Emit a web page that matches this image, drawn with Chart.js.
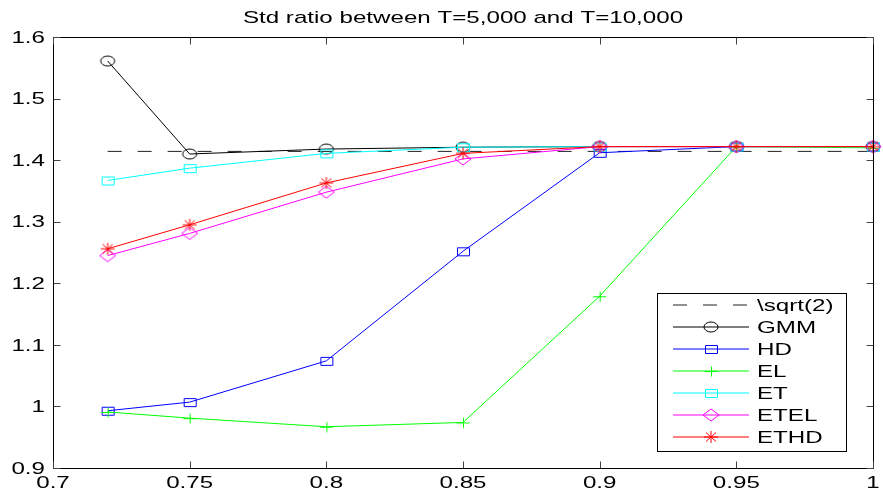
<!DOCTYPE html>
<html>
<head>
<meta charset="utf-8">
<script src="https://cdn.jsdelivr.net/npm/chart.js@4.4.1/dist/chart.umd.min.js"></script>
<style>
    html, body { margin: 0; padding: 0; background: #fff; }
    #wrap { width: 883px; height: 495px; }
</style>
</head>
<body>
<div id="wrap"><canvas id="chart"></canvas></div>
<script>
// Tail fraction on the x axis
var alphas = [0.72, 0.75, 0.8, 0.85, 0.9, 0.95, 1.0];
var sqrt2Span = [0.72, 1.0];
var sqrt2Value = Math.SQRT2;

// Std ratio per estimator
var gmm  = [1.561, 1.410, 1.418, 1.421, 1.422, 1.422, 1.422];
var hd   = [0.993, 1.007, 1.074, 1.252, 1.412, 1.422, 1.422];
var el   = [0.991, 0.981, 0.967, 0.974, 1.179, 1.422, 1.420];
var et   = [1.367, 1.387, 1.411, 1.421, 1.422, 1.422, 1.422];
var etel = [1.245, 1.281, 1.348, 1.402, 1.422, 1.422, 1.422];
var ethd = [1.256, 1.295, 1.363, 1.411, 1.422, 1.422, 1.422];

var xTicks = [0.7, 0.75, 0.8, 0.85, 0.9, 0.95, 1];
var xTickLabels = ['0.7', '0.75', '0.8', '0.85', '0.9', '0.95', '1'];
var yTicks = [0.9, 1, 1.1, 1.2, 1.3, 1.4, 1.5, 1.6];
var yTickLabels = ['0.9', '1', '1.1', '1.2', '1.3', '1.4', '1.5', '1.6'];

var titleText = 'Std ratio between T=5,000 and T=10,000';
var legendLabels = ['\\sqrt(2)', 'GMM', 'HD', 'EL', 'ET', 'ETEL', 'ETHD'];

var FONT = '17px "Liberation Sans", Arial, sans-serif';
var STRETCH = 1.42;

// text is drawn a bit wider than the font, like the old figure export
function wideText(ctx, text, x, y, align) {
    ctx.save();
    ctx.translate(x, y);
    ctx.scale(STRETCH, 1);
    ctx.font = FONT;
    ctx.fillStyle = '#000';
    ctx.textAlign = align;
    ctx.textBaseline = 'middle';
    ctx.fillText(text, 0, 0);
    ctx.restore();
}

// marker sprites (slightly flattened, as in the figure)
function makeMarker(kind, color) {
    var c = document.createElement('canvas');
    c.width = 20;
    c.height = 16;
    var g = c.getContext('2d');
    g.strokeStyle = color;
    g.lineWidth = 1;
    var cx = 10, cy = 8;
    g.beginPath();
    if (kind === 'circle') {
        g.ellipse(cx, cy, 7, 5, 0, 0, Math.PI * 2);
    } else if (kind === 'square') {
        g.rect(cx - 6 + 0.5, cy - 4 + 0.5, 12, 8);
    } else if (kind === 'plus') {
        g.moveTo(cx - 6.5, cy + 0.5); g.lineTo(cx + 6.5, cy + 0.5);
        g.moveTo(cx + 0.5, cy - 4.5); g.lineTo(cx + 0.5, cy + 5.5);
    } else if (kind === 'diamond') {
        g.moveTo(cx, cy - 6); g.lineTo(cx + 8, cy);
        g.lineTo(cx, cy + 6); g.lineTo(cx - 8, cy);
        g.closePath();
    } else if (kind === 'star') {
        g.moveTo(cx - 7, cy); g.lineTo(cx + 7, cy);
        g.moveTo(cx, cy - 6); g.lineTo(cx, cy + 6);
        g.moveTo(cx - 5, cy - 4.5); g.lineTo(cx + 5, cy + 4.5);
        g.moveTo(cx - 5, cy + 4.5); g.lineTo(cx + 5, cy - 4.5);
    }
    g.stroke();
    return c;
}

function pairs(ys) {
    return alphas.map(function(x, i) { return {x: x, y: ys[i]}; });
}

var series = [
    {label: legendLabels[0], data: sqrt2Span.map(function(x) { return {x: x, y: sqrt2Value}; }), color: '#222', marker: null, dash: [14, 16]},
    {label: legendLabels[1], data: pairs(gmm),  color: '#000000', marker: 'circle'},
    {label: legendLabels[2], data: pairs(hd),   color: '#0000ff', marker: 'square'},
    {label: legendLabels[3], data: pairs(el),   color: '#00ff00', marker: 'plus'},
    {label: legendLabels[4], data: pairs(et),   color: '#00ffff', marker: 'square'},
    {label: legendLabels[5], data: pairs(etel), color: '#ff00ff', marker: 'diamond'},
    {label: legendLabels[6], data: pairs(ethd), color: '#ff0000', marker: 'star'}
];

series.forEach(function(s) {
    s.sprite = s.marker ? makeMarker(s.marker, s.color) : null;
});

var datasets = series.map(function(s, i) {
    return {
        label: s.label,
        data: s.data,
        borderColor: s.color,
        borderWidth: 1,
        borderDash: s.dash || [],
        backgroundColor: 'transparent',
        pointStyle: s.sprite || false,
        pointRadius: s.sprite ? 6 : 0,
        fill: false,
        tension: 0,
        clip: false,
        // later series drawn on top
        order: series.length - i
    };
});

// axes box, inward ticks, tick labels and title
var axesPlugin = {
    id: 'matlabAxes',
    afterDraw: function(chart) {
        var ctx = chart.ctx;
        var a = chart.chartArea;
        var xs = chart.scales.x, ys = chart.scales.y;
        var L = Math.round(a.left) + 0.5, R = Math.round(a.right) + 0.5;
        var T = Math.round(a.top) + 0.5, B = Math.round(a.bottom) + 0.5;
        ctx.save();
        ctx.strokeStyle = '#000';
        ctx.lineWidth = 1;
        ctx.strokeRect(L, T, R - L, B - T);
        ctx.strokeStyle = '#444';
        ctx.beginPath();
        xTicks.forEach(function(v) {
            var px = Math.round(xs.getPixelForValue(v)) + 0.5;
            ctx.moveTo(px, B); ctx.lineTo(px, B - 7);
            ctx.moveTo(px, T); ctx.lineTo(px, T + 7);
        });
        yTicks.forEach(function(v) {
            var py = Math.round(ys.getPixelForValue(v)) + 0.5;
            ctx.moveTo(L, py); ctx.lineTo(L + 7, py);
            ctx.moveTo(R, py); ctx.lineTo(R - 7, py);
        });
        ctx.stroke();
        ctx.restore();

        xTicks.forEach(function(v, i) {
            wideText(ctx, xTickLabels[i], xs.getPixelForValue(v), a.bottom + 15, 'center');
        });
        yTicks.forEach(function(v, i) {
            wideText(ctx, yTickLabels[i], a.left - 8, ys.getPixelForValue(v) + 1, 'right');
        });
        wideText(ctx, titleText, (a.left + a.right) / 2, 18, 'center');
    }
};

// boxed legend in the lower right corner
var legendPlugin = {
    id: 'boxLegend',
    afterDraw: function(chart) {
        var ctx = chart.ctx;
        var box = {x: 657.5, y: 293.5, w: 189, h: 158};
        var rowGap = 22;
        var firstRow = 305;
        ctx.save();
        ctx.fillStyle = '#fff';
        ctx.fillRect(box.x, box.y, box.w, box.h);
        ctx.strokeStyle = '#000';
        ctx.lineWidth = 1;
        ctx.strokeRect(box.x, box.y, box.w, box.h);
        series.forEach(function(s, i) {
            var y = Math.round(firstRow + i * rowGap);
            ctx.save();
            ctx.beginPath();
            ctx.setLineDash(s.dash || []);
            ctx.strokeStyle = s.color;
            ctx.lineWidth = 1.2;
            ctx.moveTo(673, y);
            ctx.lineTo(749, y);
            ctx.stroke();
            ctx.restore();
            if (s.sprite) {
                ctx.drawImage(s.sprite, 711 - s.sprite.width / 2, y - s.sprite.height / 2);
            }
            wideText(ctx, s.label, 757, y + 1, 'left');
        });
        ctx.restore();
    }
};

new Chart(document.getElementById('chart'), {
    type: 'line',
    data: {datasets: datasets},
    options: {
        responsive: true,
        maintainAspectRatio: false,
        animation: false,
        events: [],
        layout: {
            padding: {left: 53, right: 10, top: 37, bottom: 27}
        },
        scales: {
            x: {type: 'linear', min: 0.7, max: 1, display: false},
            y: {type: 'linear', min: 0.9, max: 1.6, display: false}
        },
        plugins: {
            legend: {display: false},
            title: {display: false},
            tooltip: {enabled: false}
        }
    },
    plugins: [axesPlugin, legendPlugin]
});
</script>
</body>
</html>
